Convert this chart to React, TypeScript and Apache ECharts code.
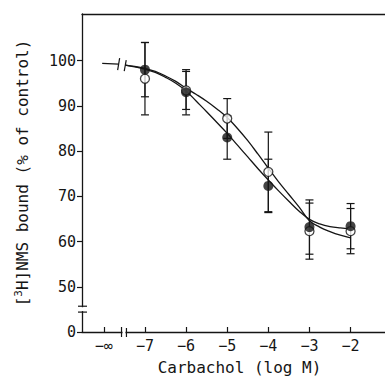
import React, { useEffect, useRef } from "react";
import * as echarts from "echarts";

// ---- data ----
const xTicks = [-8, -7, -6, -5, -4, -3, -2];
const xTickLabels = ["−∞", "−7", "−6", "−5", "−4", "−3", "−2"];
// y display ticks (0 is placed below the axis break)
const yTickValues = [0, 50, 60, 70, 80, 90, 100];

const doses = [-7, -6, -5, -4, -3, -2];
const filledMean = [98, 93, 83, 72.3, 63.2, 63.4];
const filledErr = [6, 5, 4.8, 5.9, 6, 5];
const openMean = [96, 93.4, 87.2, 75.4, 62.3, 62.3];
const openErr = [8, 4.2, 4.4, 8.8, 6.2, 5];

const preBreakX = [-8.04, -7.64];
const preBreakY = [99.4, 99.2];

const curveX = [-7.48, -7.25, -7, -6.75, -6.5, -6.25, -6, -5.75, -5.5, -5.25, -5, -4.75, -4.5, -4.25, -4, -3.75, -3.5, -3.25, -3, -2.75, -2.5, -2.25, -2];
const filledCurve = [99.0, 98.6, 98.1, 97.4, 96.3, 95.0, 93.3, 91.0, 88.7, 86.3, 83.9, 81.3, 78.7, 76.1, 73.6, 71.2, 68.9, 66.7, 64.9, 63.9, 63.3, 63.0, 62.8];
const openCurve = [99.0, 98.7, 98.3, 97.6, 96.6, 95.4, 93.9, 92.5, 91.0, 89.3, 87.4, 85.0, 82.3, 79.3, 76.2, 73.2, 70.4, 67.6, 64.6, 63.2, 62.2, 61.4, 60.8];

// axis break mapping: display 0 -> axis 40, values >= 50 unchanged
const toAxis = (v: number) => (v >= 50 ? v : 40 + v / 5);

const FONT = "DejaVu Sans Mono";
const INK = "#151515";

export default function App() {
  const ref = useRef<HTMLDivElement>(null);
  useEffect(() => {
    const chart = echarts.init(ref.current!, null, { renderer: "svg" });
    const xMin = -8.531;
    const xMax = -1.163;
    const yMin = 40;
    const yMax = 110.3;

    const errRender = (params: any, api: any) => {
      const x = api.value(0);
      const lo = api.value(1);
      const hi = api.value(2);
      const a = api.coord([x, hi]);
      const b = api.coord([x, lo]);
      const w = 4;
      const st = { stroke: INK, lineWidth: 1.2 };
      return {
        type: "group",
        children: [
          { type: "line", shape: { x1: a[0], y1: a[1], x2: b[0], y2: b[1] }, style: st },
          { type: "line", shape: { x1: a[0] - w, y1: a[1], x2: a[0] + w, y2: a[1] }, style: st },
          { type: "line", shape: { x1: b[0] - w, y1: b[1], x2: b[0] + w, y2: b[1] }, style: st },
        ],
      };
    };

    chart.setOption({
      animation: false,
      backgroundColor: "#fff",
      grid: { left: 82, top: 14, right: -5, bottom: 46, containLabel: false },
      xAxis: [
        {
          type: "value",
          min: xMin,
          max: xMax,
          name: "Carbachol (log M)",
          nameLocation: "middle",
          nameGap: 27,
          nameTextStyle: { fontFamily: FONT, fontSize: 16, color: INK, padding: [0, 0, 0, 12] },
          axisLine: { show: true, lineStyle: { color: INK, width: 1.3 } },
          axisTick: { show: true, inside: true, length: 5, lineStyle: { color: INK, width: 1.2 }, customValues: xTicks },
          axisLabel: {
            show: true,
            margin: 6,
            fontFamily: FONT,
            fontSize: 15,
            color: INK,
            customValues: xTicks,
            formatter: (v: number) => {
              const i = xTicks.findIndex((t) => Math.abs(t - v) < 1e-6);
              return i >= 0 ? xTickLabels[i] : "";
            },
          },
          splitLine: { show: false },
        },
        {
          type: "value",
          position: "top",
          min: xMin,
          max: xMax,
          axisLine: { show: true, onZero: false, lineStyle: { color: INK, width: 1.3 } },
          axisTick: { show: false },
          axisLabel: { show: false },
          splitLine: { show: false },
        },
      ],
      yAxis: {
        type: "value",
        min: yMin,
        max: yMax,
        name: "[{sup|3}H]NMS bound (% of control)",
        nameLocation: "middle",
        nameRotate: 90,
        nameGap: 50,
        nameTextStyle: {
          fontFamily: FONT,
          fontSize: 16,
          color: INK,
          rich: { sup: { fontFamily: FONT, fontSize: 11, color: INK, padding: [0, 0, 8, 0] } },
        },
        axisLine: { show: true, lineStyle: { color: INK, width: 1.3 } },
        axisTick: { show: true, inside: false, length: 5, lineStyle: { color: INK, width: 1.2 }, customValues: yTickValues.map(toAxis) },
        axisLabel: {
          show: true,
          margin: 6,
          fontFamily: FONT,
          fontSize: 15,
          color: INK,
          customValues: yTickValues.map(toAxis),
          formatter: (v: number) => {
            const i = yTickValues.findIndex((t) => Math.abs(toAxis(t) - v) < 1e-6);
            return i >= 0 ? String(yTickValues[i]) : "";
          },
        },
        splitLine: { show: false },
      },
      series: [
        {
          type: "line",
          data: preBreakX.map((x, i) => [x, toAxis(preBreakY[i])]),
          symbol: "none",
          lineStyle: { color: INK, width: 1.3 },
          z: 2,
        },
        {
          type: "line",
          data: curveX.map((x, i) => [x, toAxis(filledCurve[i])]),
          symbol: "none",
          smooth: 0.4,
          lineStyle: { color: INK, width: 1.3 },
          z: 2,
        },
        {
          type: "line",
          data: curveX.map((x, i) => [x, toAxis(openCurve[i])]),
          symbol: "none",
          smooth: 0.4,
          lineStyle: { color: INK, width: 1.3 },
          z: 2,
        },
        {
          type: "custom",
          renderItem: errRender,
          data: doses.map((x, i) => [x, toAxis(openMean[i] - openErr[i]), toAxis(openMean[i] + openErr[i])]),
          encode: { x: 0, y: [1, 2] },
          z: 3,
        },
        {
          type: "custom",
          renderItem: errRender,
          data: doses.map((x, i) => [x, toAxis(filledMean[i] - filledErr[i]), toAxis(filledMean[i] + filledErr[i])]),
          encode: { x: 0, y: [1, 2] },
          z: 3,
        },
        {
          type: "scatter",
          data: doses.map((x, i) => [x, toAxis(openMean[i])]),
          symbol: "circle",
          symbolSize: 9,
          itemStyle: { color: "#fff", borderColor: INK, borderWidth: 1.3 },
          z: 4,
        },
        {
          type: "scatter",
          data: doses.map((x, i) => [x, toAxis(filledMean[i])]),
          symbol: "circle",
          symbolSize: 10,
          itemStyle: { color: INK },
          z: 5,
        },
      ],
    });

    const px = (x: number, y: number) => chart.convertToPixel({ xAxisIndex: 0, yAxisIndex: 0 }, [x, y]) as number[];
    const st = { stroke: INK, lineWidth: 1.2 };
    const g: any[] = [];
    // x axis break
    const xb1 = px(-7.57, yMin);
    const xb2 = px(-7.45, yMin);
    g.push({ type: "rect", z: 100, shape: { x: xb1[0] + 1, y: xb1[1] - 2, width: xb2[0] - xb1[0] - 2, height: 4 }, style: { fill: "#fff" } });
    g.push({ type: "line", z: 101, shape: { x1: xb1[0], y1: xb1[1] - 5, x2: xb1[0], y2: xb1[1] + 5 }, style: st });
    g.push({ type: "line", z: 101, shape: { x1: xb2[0], y1: xb2[1] - 4, x2: xb2[0], y2: xb2[1] + 5 }, style: st });
    // y axis break
    const yb1 = px(xMin, 45.7);
    const yb2 = px(xMin, 44.4);
    g.push({ type: "rect", z: 100, shape: { x: yb1[0] - 2, y: yb1[1] + 1, width: 4, height: yb2[1] - yb1[1] - 2 }, style: { fill: "#fff" } });
    g.push({ type: "line", z: 101, shape: { x1: yb1[0] - 4, y1: yb1[1], x2: yb1[0] + 5, y2: yb1[1] }, style: st });
    g.push({ type: "line", z: 101, shape: { x1: yb2[0] - 4, y1: yb2[1], x2: yb2[0] + 5, y2: yb2[1] }, style: st });
    // curve break marks
    const c1 = px(preBreakX[1], toAxis(preBreakY[1]));
    const c2 = px(curveX[0], toAxis(filledCurve[0]));
    g.push({ type: "line", z: 101, shape: { x1: c1[0] + 1, y1: c1[1] - 6, x2: c1[0] - 1, y2: c1[1] + 6 }, style: st });
    g.push({ type: "line", z: 101, shape: { x1: c2[0] + 1, y1: c2[1] - 5, x2: c2[0] - 1, y2: c2[1] + 6 }, style: st });
    chart.setOption({ graphic: g });

    return () => chart.dispose();
  }, []);
  return (
    <div
      ref={ref}
      style={{ position: "fixed", left: 0, top: 0, width: 385, height: 380, background: "#fff" }}
    />
  );
}
